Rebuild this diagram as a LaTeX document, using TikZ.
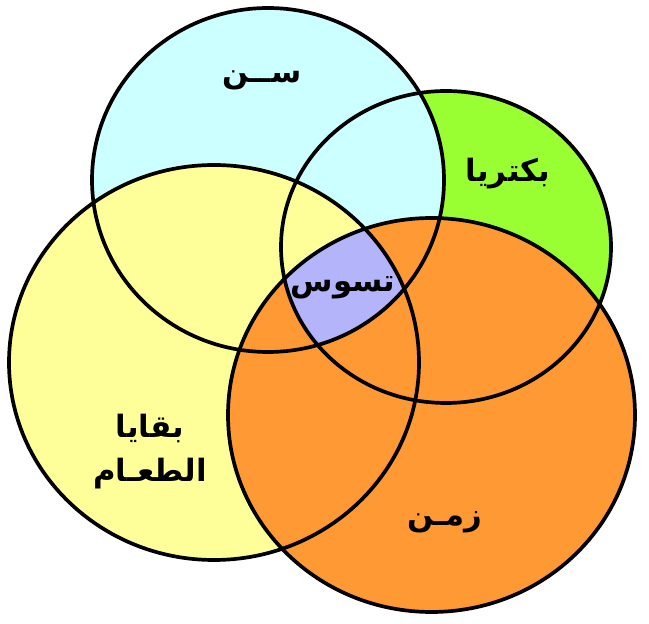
\documentclass[tikz,border=0pt]{standalone}
\usepackage{fontspec}
\usepackage{xcolor}
\usepackage{tikz}
\usetikzlibrary{calc}
\TeXXeTstate=1
\newfontfamily\arabicfont[Script=Arabic]{DejaVu Sans}
\definecolor{toothcyan}{HTML}{CCFFFF}
\definecolor{germgreen}{HTML}{99FF33}
\definecolor{foodyellow}{HTML}{FFFF99}
\definecolor{timeorange}{HTML}{FF9933}
\definecolor{decaypurple}{HTML}{B4B4FA}

\begin{document}
\begin{tikzpicture}[x=0.02cm, y=-0.02cm,
	rim/.style={draw=black, line width=2.1pt},
	word/.style={font=\arabicfont\bfseries\fontsize{17.5}{25}\selectfont, align=center, inner sep=0pt}]
	\useasboundingbox (0, 0) rectangle (649, 624);
	\coordinate (tooth) at (268, 180);
	\coordinate (germ) at (446, 247);
	\coordinate (food) at (214, 362.5);
	\coordinate (time) at (431.5, 415);
	\fill[germgreen] (germ) ellipse [x radius=165, y radius=156];
	\fill[toothcyan] (tooth) ellipse [x radius=176, y radius=172];
	\fill[foodyellow] (food) ellipse [x radius=205, y radius=197.5];
	\fill[timeorange] (time) ellipse [x radius=203.5, y radius=197];
	\begin{scope}
		\clip (tooth) ellipse [x radius=176, y radius=172];
		\clip (germ) ellipse [x radius=165, y radius=156];
		\clip (food) ellipse [x radius=205, y radius=197.5];
		\fill[decaypurple] (time) ellipse [x radius=203.5, y radius=197];
	\end{scope}
	\draw[rim] (germ) ellipse [x radius=165, y radius=156];
	\draw[rim] (tooth) ellipse [x radius=176, y radius=172];
	\draw[rim] (food) ellipse [x radius=205, y radius=197.5];
	\draw[rim] (time) ellipse [x radius=203.5, y radius=197];
	\node[word] (toothLabel) at (262, 80) {\beginR ســن\endR};
	\node[word] (germLabel) at (508, 174) {\beginR بكتريا\endR};
	\node[word] (decayLabel) at (343, 288) {\beginR تسوس\endR};
	\node[word] (foodLabel) at (150, 452) {\beginR بقايا\endR\\\beginR الطعـام\endR};
	\node[word] (timeLabel) at (445, 522) {\beginR زمـن\endR};
\end{tikzpicture}
\end{document}
